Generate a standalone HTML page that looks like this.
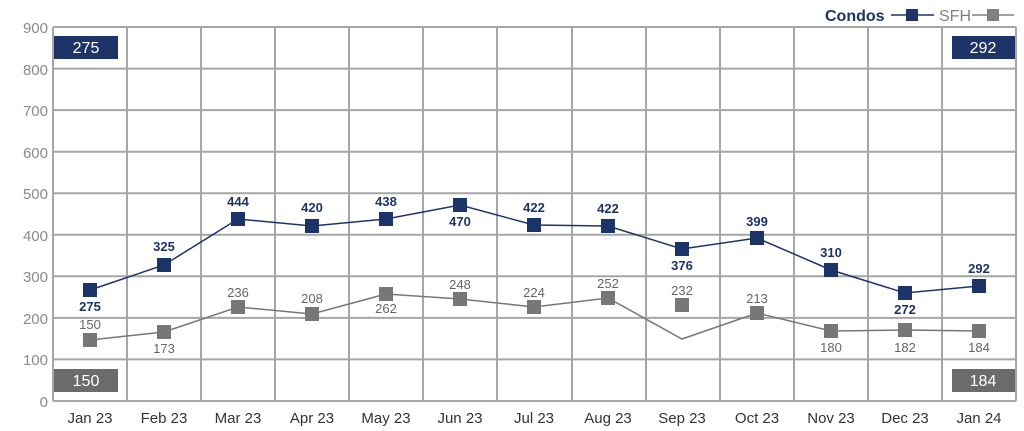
<!DOCTYPE html>
<html><head><style>body{margin:0;background:#fff}svg{display:block}text{font-family:"Liberation Sans",sans-serif}</style></head><body>
<svg width="1024" height="431" viewBox="0 0 1024 431">
<g stroke="#a6a6a6" stroke-width="2" fill="none">
<line x1="53" y1="27" x2="1016" y2="27"/><line x1="53" y1="68.6" x2="1016" y2="68.6"/><line x1="53" y1="110.1" x2="1016" y2="110.1"/><line x1="53" y1="151.7" x2="1016" y2="151.7"/><line x1="53" y1="193.2" x2="1016" y2="193.2"/><line x1="53" y1="234.8" x2="1016" y2="234.8"/><line x1="53" y1="276.3" x2="1016" y2="276.3"/><line x1="53" y1="317.9" x2="1016" y2="317.9"/><line x1="53" y1="359.4" x2="1016" y2="359.4"/><line x1="53" y1="401" x2="1016" y2="401"/>
<line x1="53" y1="27" x2="53" y2="401"/><line x1="127" y1="27" x2="127" y2="401"/><line x1="201" y1="27" x2="201" y2="401"/><line x1="275" y1="27" x2="275" y2="401"/><line x1="349" y1="27" x2="349" y2="401"/><line x1="423" y1="27" x2="423" y2="401"/><line x1="497" y1="27" x2="497" y2="401"/><line x1="572" y1="27" x2="572" y2="401"/><line x1="646" y1="27" x2="646" y2="401"/><line x1="720" y1="27" x2="720" y2="401"/><line x1="794" y1="27" x2="794" y2="401"/><line x1="868" y1="27" x2="868" y2="401"/><line x1="942" y1="27" x2="942" y2="401"/><line x1="1016" y1="27" x2="1016" y2="401"/>
</g>
<g fill="#8a8a8a" font-size="15" text-anchor="end">
<text x="48" y="33">900</text><text x="48" y="75">800</text><text x="48" y="116">700</text><text x="48" y="158">600</text><text x="48" y="199">500</text><text x="48" y="241">400</text><text x="48" y="282">300</text><text x="48" y="324">200</text><text x="48" y="365">100</text><text x="48" y="407">0</text>
</g>
<g fill="#333" font-size="15" text-anchor="middle">
<text x="90" y="423">Jan 23</text><text x="164" y="423">Feb 23</text><text x="238" y="423">Mar 23</text><text x="312" y="423">Apr 23</text><text x="386" y="423">May 23</text><text x="460" y="423">Jun 23</text><text x="534" y="423">Jul 23</text><text x="608" y="423">Aug 23</text><text x="682" y="423">Sep 23</text><text x="757" y="423">Oct 23</text><text x="831" y="423">Nov 23</text><text x="905" y="423">Dec 23</text><text x="979" y="423">Jan 24</text>
</g>
<polyline fill="none" stroke="#777" stroke-width="1.5" points="90,340 164,332 238,307 312,314 386,294 460,299 534,307 608,298 682,339 757,313 831,331 905,330 979,331"/>
<g fill="#777"><rect x="83" y="333" width="14" height="14"/><rect x="157" y="325" width="14" height="14"/><rect x="231" y="300" width="14" height="14"/><rect x="305" y="307" width="14" height="14"/><rect x="379" y="287" width="14" height="14"/><rect x="453" y="292" width="14" height="14"/><rect x="527" y="300" width="14" height="14"/><rect x="601" y="291" width="14" height="14"/><rect x="675" y="298" width="14" height="14"/><rect x="750" y="306" width="14" height="14"/><rect x="824" y="324" width="14" height="14"/><rect x="898" y="323" width="14" height="14"/><rect x="972" y="324" width="14" height="14"/></g>
<polyline fill="none" stroke="#1c3467" stroke-width="1.5" points="90,290 164,265 238,219 312,226 386,219 460,205 534,225 608,226 682,249 757,238 831,270 905,293 979,286"/>
<g fill="#1c3467"><rect x="83" y="283" width="14" height="14"/><rect x="157" y="258" width="14" height="14"/><rect x="231" y="212" width="14" height="14"/><rect x="305" y="219" width="14" height="14"/><rect x="379" y="212" width="14" height="14"/><rect x="453" y="198" width="14" height="14"/><rect x="527" y="218" width="14" height="14"/><rect x="601" y="219" width="14" height="14"/><rect x="675" y="242" width="14" height="14"/><rect x="750" y="231" width="14" height="14"/><rect x="824" y="263" width="14" height="14"/><rect x="898" y="286" width="14" height="14"/><rect x="972" y="279" width="14" height="14"/></g>
<g fill="#1c3467" font-size="13" font-weight="bold" text-anchor="middle">
<text x="90" y="311">275</text><text x="164" y="251">325</text><text x="238" y="206">444</text><text x="312" y="212">420</text><text x="386" y="206">438</text><text x="460" y="226">470</text><text x="534" y="212">422</text><text x="608" y="213">422</text><text x="682" y="270">376</text><text x="757" y="226">399</text><text x="831" y="257">310</text><text x="905" y="314">272</text><text x="979" y="273">292</text>
</g>
<g fill="#666" font-size="13" text-anchor="middle">
<text x="90" y="329">150</text><text x="164" y="353">173</text><text x="238" y="297">236</text><text x="312" y="303">208</text><text x="386" y="313">262</text><text x="460" y="289">248</text><text x="534" y="297">224</text><text x="608" y="288">252</text><text x="682" y="295">232</text><text x="757" y="303">213</text><text x="831" y="352">180</text><text x="905" y="352">182</text><text x="979" y="352">184</text>
</g>
<rect x="54" y="36" width="64" height="23" fill="#1c3467"/><text x="86" y="53" fill="#fff" font-size="16" text-anchor="middle">275</text>
<rect x="952" y="36" width="63" height="23" fill="#1c3467"/><text x="983" y="53" fill="#fff" font-size="16" text-anchor="middle">292</text>
<rect x="54" y="369" width="64" height="23" fill="#6b6b6b"/><text x="86" y="386" fill="#fff" font-size="16" text-anchor="middle">150</text>
<rect x="952" y="369" width="63" height="23" fill="#6b6b6b"/><text x="983" y="386" fill="#fff" font-size="16" text-anchor="middle">184</text>
<text x="825" y="21" fill="#1c3467" font-size="16" font-weight="bold">Condos</text>
<line x1="891" y1="15" x2="934" y2="15" stroke="#1c3467" stroke-width="1.5"/><rect x="906" y="9" width="12" height="12" fill="#1c3467"/>
<text x="939" y="21" fill="#808080" font-size="16">SFH</text>
<line x1="972" y1="15" x2="1014" y2="15" stroke="#808080" stroke-width="1.5"/><rect x="987" y="9" width="12" height="12" fill="#808080"/>
</svg>
</body></html>
